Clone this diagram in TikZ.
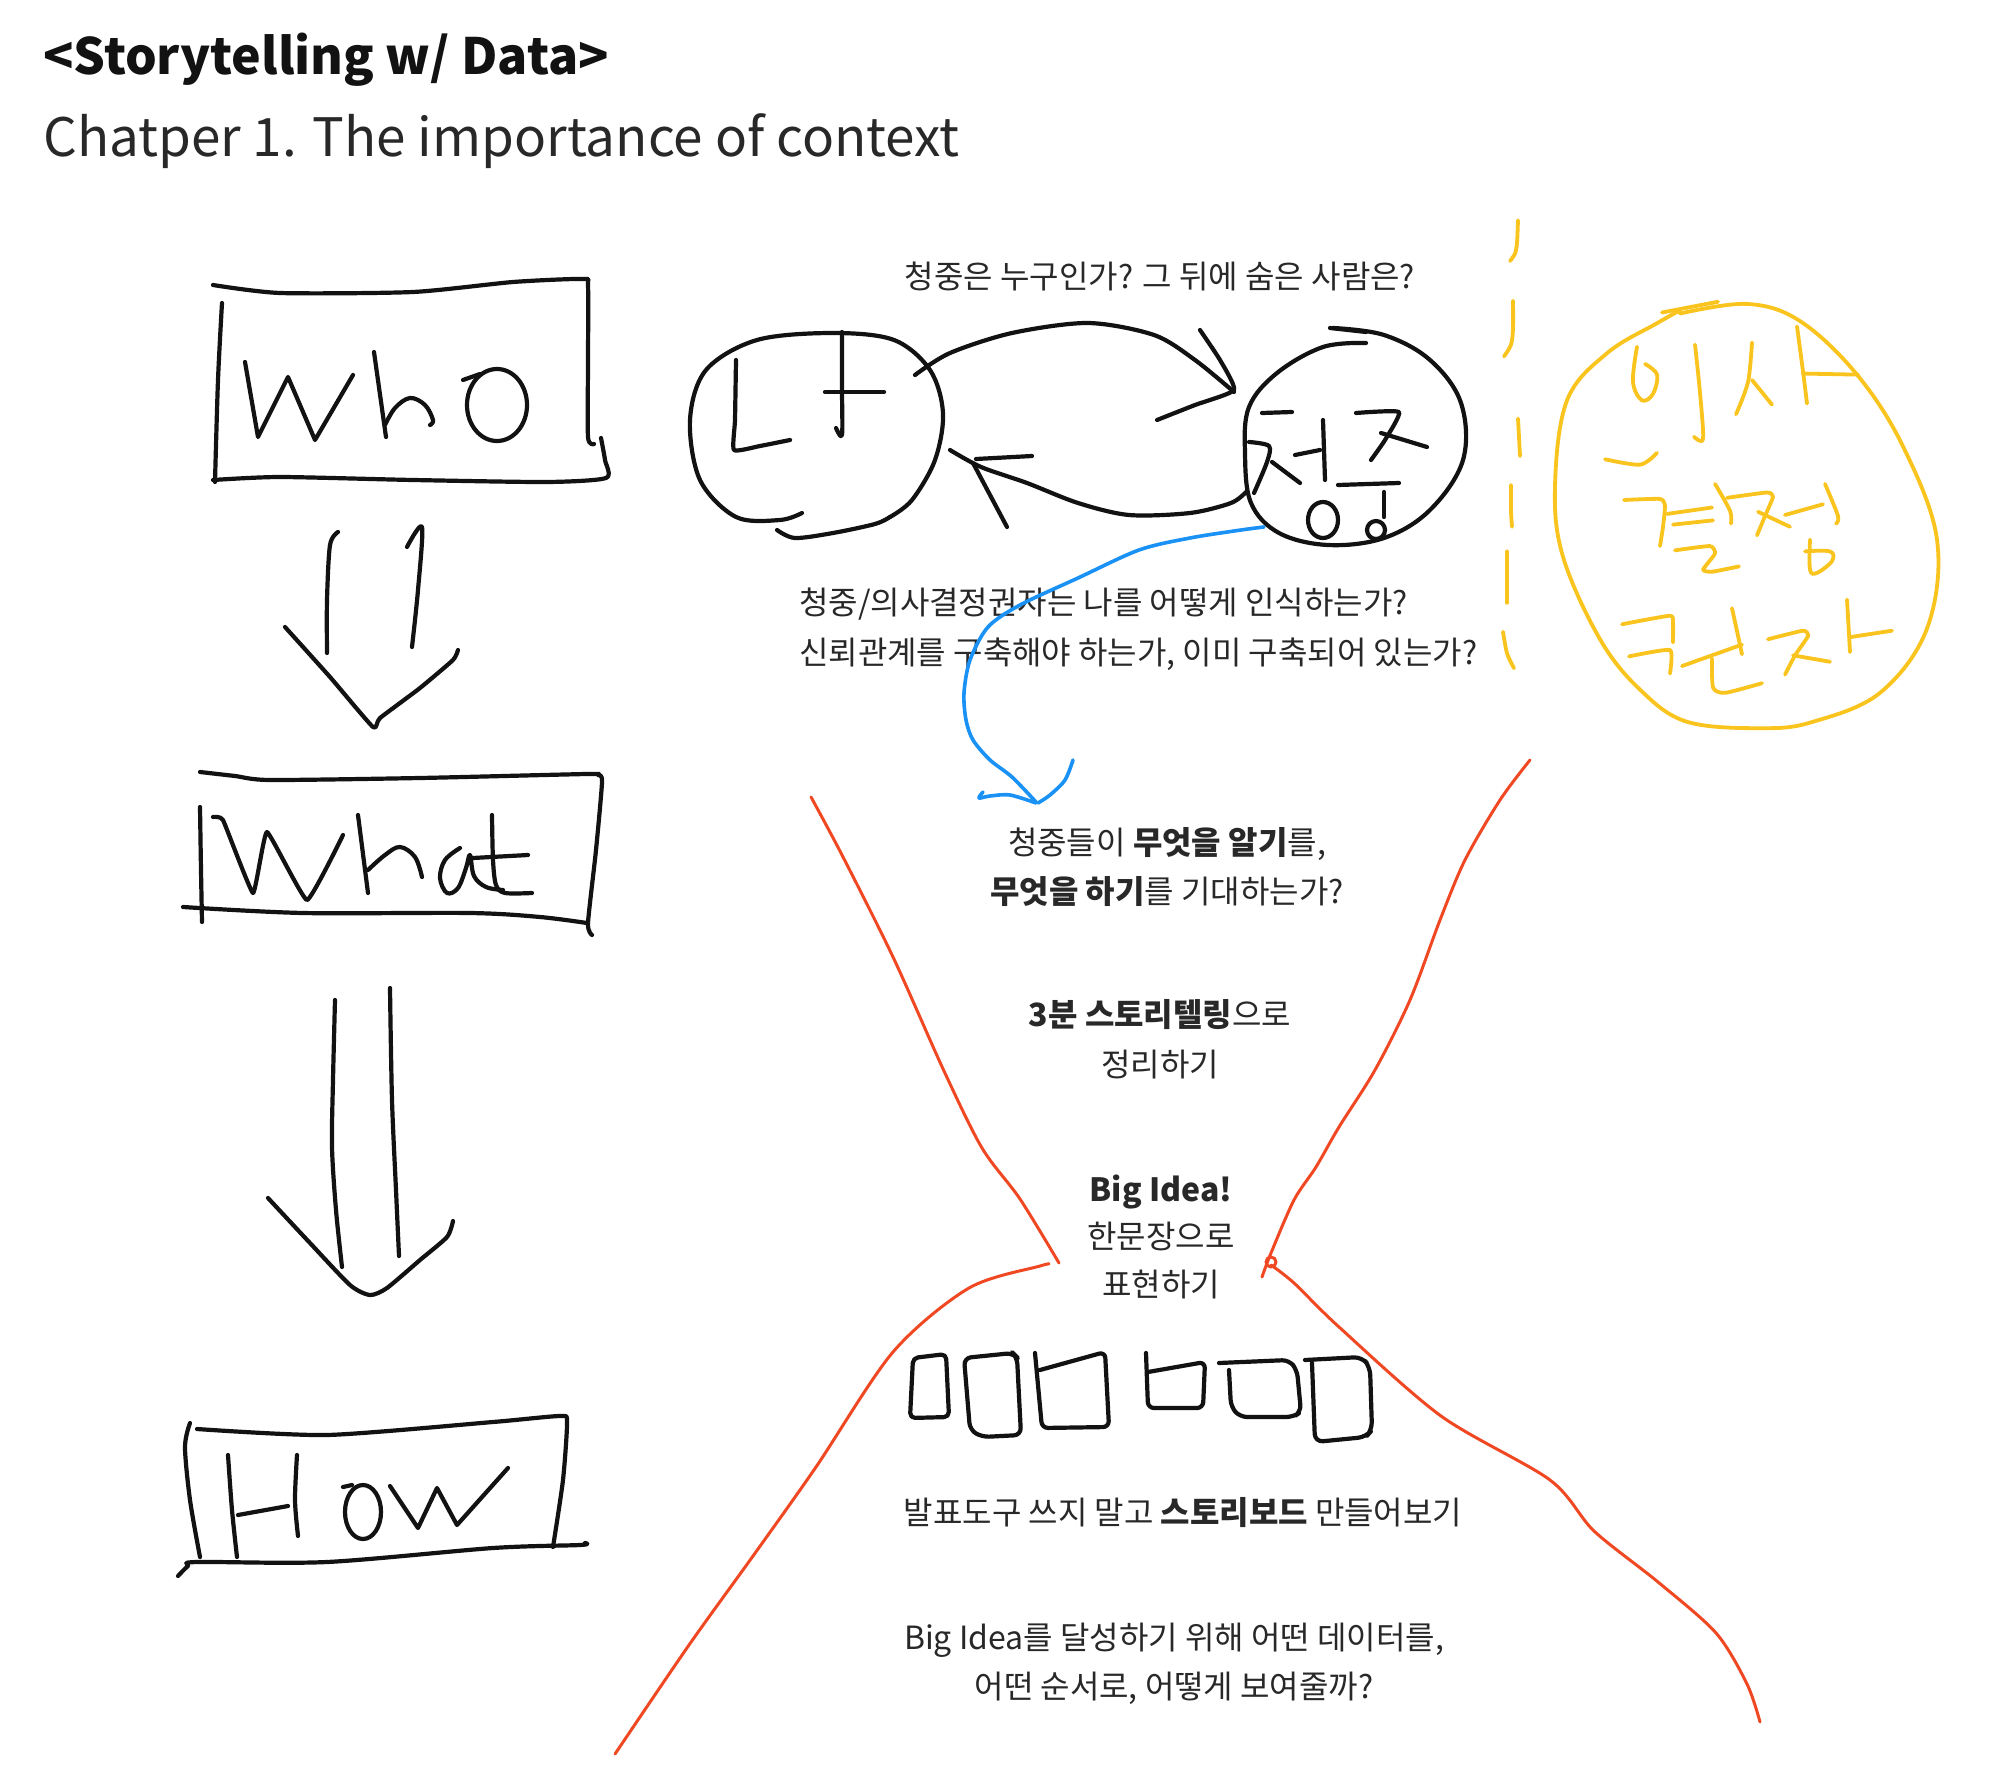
\documentclass[tikz,border=0pt]{standalone}
\usepackage{fontspec}
\setmainfont{Noto Sans CJK KR}
\definecolor{ink}{RGB}{18,18,18}
\definecolor{txtc}{RGB}{40,40,40}
\definecolor{ylw}{RGB}{250,196,30}
\definecolor{blu}{RGB}{25,145,245}
\definecolor{rd}{RGB}{240,72,35}
\begin{document}
\begin{tikzpicture}[x=1pt,y=-1pt,
  pen/.style={ink,line width=4.2pt,line cap=round,line join=round},
  ypen/.style={ylw,line width=3.8pt,line cap=round,line join=round},
  bpen/.style={blu,line width=3.6pt,line cap=round,line join=round},
  rpen/.style={rd,line width=3pt,line cap=round,line join=round},
  txt/.style={inner sep=0pt,text=txtc,font=\fontsize{32}{38}\selectfont},
  ttl/.style={inner sep=0pt,text=txtc,anchor=base west}]
\useasboundingbox (0,0) rectangle (2000,1787);
\fill[white] (0,0) rectangle (2000,1787);

% titles
\node[ttl,font=\fontsize{50}{60}\selectfont\bfseries,text=ink] (title) at (43,75) {<Storytelling w/ Data>};
\node[ttl,font=\fontsize{53}{63}\selectfont] (sub) at (43,157) {Chatper 1. The importance of context};

% ---------- WHO box ----------
\draw[pen] plot[smooth,tension=0.4] coordinates {(213,285) (280,293) (413,292) (513,282) (583,279) (588,286) (588,360) (588,437) (594,444)};
\draw[pen] plot[smooth,tension=0.4] coordinates {(601,438) (605,460) (606,478) (547,482) (413,480) (280,477) (213,480)};
\draw[pen] plot[smooth] coordinates {(222,303) (218,380) (215,482)};
\draw[pen] (245,362) -- (258,437) -- (288,377) -- (315,440) -- (353,375);
\draw[pen] (374,352) -- (386,437);
\draw[pen] plot[smooth,tension=0.6] coordinates {(385,425) (395,408) (410,398) (425,405) (433,420) (430,425)};
\draw[pen] (497,405) ellipse [x radius=30,y radius=36];
\draw[pen] (463,380) -- (480,374);

% arrow who -> what
\draw[pen] plot[smooth] coordinates {(338,532) (330,545) (327,600) (327,653)};
\draw[pen] plot[smooth] coordinates {(407,547) (422,527) (418,590) (412,647)};
\draw[pen] plot[smooth,tension=0.3] coordinates {(285,627) (330,677) (373,727) (380,718) (420,688) (453,660) (458,650)};

% ---------- WHAT box ----------
\draw[pen] plot[smooth,tension=0.4] coordinates {(200,772) (235,776) (270,780) (420,778) (587,774) (598,775) (602,782) (596,850) (588,923) (592,935)};
\draw[pen] plot[smooth] coordinates {(200,807) (201,870) (202,922)};
\draw[pen] plot[smooth] coordinates {(183,907) (303,913) (470,913) (540,917) (587,923)};
\draw[pen] plot[smooth,tension=0.2] coordinates {(213,817) (223,820) (253,893) (267,832) (307,900) (343,835)};
\draw[pen] (358,815) -- (368,893);
\draw[pen] plot[smooth,tension=0.6] coordinates {(368,870) (385,855) (400,847) (415,857) (422,877)};
\draw[pen] plot[smooth,tension=0.6] coordinates {(460,848) (445,860) (440,878) (447,893) (458,888) (466,868) (470,855) (474,876) (486,887) (503,890)};
\draw[pen] plot[smooth,tension=0.5] coordinates {(492,815) (493,860) (496,885) (505,893) (532,893)};
\draw[pen] (473,858) -- (528,855);

% arrow what -> how
\draw[pen] plot[smooth] coordinates {(335,1000) (333,1080) (332,1147) (336,1210) (342,1267)};
\draw[pen] plot[smooth] coordinates {(390,988) (392,1100) (396,1190) (399,1256)};
\draw[pen] plot[smooth,tension=0.4] coordinates {(268,1198) (310,1243) (350,1285) (370,1295) (387,1288) (420,1260) (447,1237) (453,1221)};

% ---------- HOW box ----------
\draw[pen] plot[smooth] coordinates {(190,1423) (185,1447) (190,1500) (200,1557)};
\draw[pen] plot[smooth,tension=0.4] coordinates {(197,1429) (327,1435) (493,1422) (560,1416) (567,1422) (563,1480) (553,1547)};
\draw[pen] plot[smooth,tension=0.5] coordinates {(178,1576) (188,1566) (197,1562) (327,1562) (493,1548) (580,1545) (585,1543)};
\draw[pen] plot[smooth] coordinates {(228,1455) (232,1510) (237,1557)};
\draw[pen] (238,1515) -- (288,1506);
\draw[pen] plot[smooth] coordinates {(297,1455) (295,1500) (298,1536)};
\draw[pen] (343,1487) -- (352,1485);
\draw[pen] (363,1512) ellipse [x radius=18,y radius=27];
\draw[pen] (390,1486) -- (418,1528) -- (437,1488) -- (457,1525) -- (508,1468);

% ---------- 나 / 청중 ----------
\node[txt,anchor=base] (q1) at (1160,289) {청중은 누구인가? 그 뒤에 숨은 사람은?};
\draw[pen] plot[smooth,tension=0.55] coordinates {(802,513) (780,520) (736,517) (700,480) (690,420) (706,370) (757,340) (833,333) (894,340) (930,370) (943,413) (935,460) (912,500) (890,517)};
\draw[pen] plot[smooth] coordinates {(777,530) (795,538) (833,533) (875,524) (890,517)};
\draw[pen] plot[smooth,tension=0.3] coordinates {(736,360) (735,420) (734,450) (760,446) (790,440)};
\draw[pen] plot[smooth] coordinates {(842,332) (842,390) (842,435) (836,428)};
\draw[pen] (825,392) -- (884,392);
% top arrow
\draw[pen] plot[smooth] coordinates {(915,375) (950,353) (1012,333) (1088,323) (1154,335) (1195,360) (1234,392)};
\draw[pen] plot[smooth,tension=0.3] coordinates {(1200,330) (1220,360) (1234,390) (1195,405) (1157,420)};
% bottom arrow
\draw[pen] plot[smooth] coordinates {(1246,492) (1231,503) (1190,513) (1129,515) (1078,503) (1027,483) (981,467) (950,450)};
\draw[pen] (976,459) -- (1032,456);
\draw[pen] (973,463) -- (1007,527);
% 청중 circle
\draw[pen] (1330,328) -- (1366,332);
\draw[pen] plot[smooth,tension=0.6] coordinates {(1366,343) (1323,347) (1277,373) (1249,407) (1245,453) (1251,503) (1279,533) (1328,545) (1384,538) (1430,510) (1463,460) (1461,403) (1430,360) (1384,335) (1333,328)};
\draw[pen] (1262,413) -- (1292,412);
\draw[pen] plot[smooth,tension=0.5] coordinates {(1249,442) (1269,446) (1267,462) (1254,493)};
\draw[pen] (1272,462) -- (1300,483);
\draw[pen] (1295,455) -- (1320,450);
\draw[pen] (1323,420) -- (1325,480);
\draw[pen] (1323,520) ellipse [x radius=15,y radius=18];
\draw[pen] plot[smooth,tension=0.3] coordinates {(1356,413) (1399,412) (1385,440) (1371,460)};
\draw[pen] (1381,433) -- (1427,447);
\draw[pen] (1338,485) -- (1399,483);
\draw[pen] (1384,492) -- (1384,517);
\draw[pen] (1376,530) circle [radius=9];

% ---------- texts ----------
\node[txt,anchor=base west] (q2a) at (799,614) {청중/의사결정권자는 나를 어떻게 인식하는가?};
\node[txt,anchor=base west] (q2b) at (799,664) {신뢰관계를 구축해야 하는가, 이미 구축되어 있는가?};
\node[txt,anchor=base] (q3a) at (1167,854) {청중들이 \textbf{무엇을 알기}를,};
\node[txt,anchor=base] (q3b) at (1167,903) {\textbf{무엇을 하기}를 기대하는가?};
\node[txt,anchor=base] (q4a) at (1160,1026) {\textbf{3분 스토리텔링}으로};
\node[txt,anchor=base] (q4b) at (1160,1076) {정리하기};
\node[txt,anchor=base] (q5a) at (1161,1201) {\textbf{Big Idea!}};
\node[txt,anchor=base] (q5b) at (1161,1248) {한문장으로};
\node[txt,anchor=base] (q5c) at (1161,1296) {표현하기};
\node[txt,anchor=base] (q6) at (1183,1524) {발표도구 쓰지 말고 \textbf{스토리보드} 만들어보기};
\node[txt,anchor=base] (q7a) at (1174,1649) {Big Idea를 달성하기 위해 어떤 데이터를,};
\node[txt,anchor=base] (q7b) at (1174,1698) {어떤 순서로, 어떻게 보여줄까?};

% ---------- blue arrow ----------
\draw[bpen] plot[smooth] coordinates {(1264,527) (1241,530) (1190,538) (1139,550) (1078,578) (1020,605) (988,627) (970,660) (964,693) (966,720) (973,740) (990,760) (1012,777) (1036,802)};
\draw[bpen] plot[smooth,tension=0.5] coordinates {(983,792) (979,798) (990,796) (1010,795) (1036,803)};
\draw[bpen] plot[smooth] coordinates {(1073,760) (1065,780) (1050,795) (1038,803)};

% ---------- storyboard boxes ----------
\draw[pen,rounded corners=5] (913,1358) -- (910,1418) -- (949,1417) -- (946,1354) -- cycle;
\draw[pen,rounded corners=7] (964,1358) -- (1013,1353) -- (1017,1357) -- (1021,1435) -- (982,1437) -- (970,1430) -- cycle;
\draw[pen,rounded corners=6] (1035,1353) -- (1042,1428) -- (1109,1427) -- (1105,1352) -- (1040,1370);
\draw[pen,rounded corners=6] (1146,1353) -- (1148,1408) -- (1203,1408) -- (1205,1362) -- (1148,1372);
\draw[pen,rounded corners=7] (1219,1363) -- (1289,1360) -- (1297,1370) -- (1301,1412) -- (1293,1417) -- (1240,1417) -- (1231,1407) -- (1229,1370);
\draw[pen,rounded corners=8] (1305,1360) -- (1362,1357) -- (1370,1367) -- (1372,1430) -- (1366,1437) -- (1315,1442) -- (1312,1363);

% ---------- red funnel ----------
\draw[rpen] plot[smooth] coordinates {(811,797) (842,855) (893,957) (944,1071) (982,1148) (1020,1199) (1059,1263)};
\draw[rpen] plot[smooth] coordinates {(1049,1264) (1040,1266) (969,1288) (893,1352) (816,1467) (753,1556) (689,1645) (615,1754)};
\draw[rpen] plot[smooth] coordinates {(1530,760) (1500,800) (1465,860) (1440,920) (1410,1000) (1375,1070) (1339,1127) (1316,1167) (1294,1200) (1271,1253) (1262,1277)};
\draw[rpen] (1271,1262) circle [radius=5];
\draw[rpen] plot[smooth] coordinates {(1271,1265) (1294,1283) (1339,1327) (1441,1416) (1550,1480) (1594,1531) (1658,1582) (1716,1633) (1747,1684) (1760,1722)};

% ---------- yellow ----------
\begin{scope}[yshift=14.28pt,yscale=1.0714]
\draw[ypen] plot[smooth] coordinates {(1518,219) (1517,240) (1515,250) (1510,257)};
\draw[ypen] plot[smooth] coordinates {(1513,294) (1513,320) (1511,335) (1504,346)};
\draw[ypen] (1518,404) -- (1520,439);
\draw[ypen] plot[smooth] coordinates {(1511,466) (1511,490) (1512,505)};
\draw[ypen] (1507,528) -- (1507,576);
\draw[ypen] plot[smooth] coordinates {(1503,603) (1507,623) (1514,637)};
\draw[ypen] (1662,305) -- (1718,295);
\draw[ypen] plot[smooth,tension=0.6] coordinates {(1680,306) (1747,297) (1800,313) (1857,363) (1903,430) (1937,517) (1927,600) (1880,660) (1813,687) (1763,693) (1687,687) (1640,657) (1600,610) (1563,533) (1555,467) (1567,387) (1607,343) (1657,315) (1680,303)};
% 의
\draw[ypen] plot[smooth,tension=0.6] coordinates {(1637,337) (1633,370) (1642,387) (1653,381) (1657,363) (1645,353)};
\draw[ypen] plot[smooth] coordinates {(1695,335) (1700,380) (1703,423) (1694,421)};
\draw[ypen] plot[smooth] coordinates {(1605,442) (1640,447) (1657,436)};
% 사
\draw[ypen] plot[smooth] coordinates {(1752,333) (1748,370) (1736,400)};
\draw[ypen] (1752,368) -- (1772,391);
\draw[ypen] plot[smooth] coordinates {(1797,318) (1803,360) (1807,390)};
\draw[ypen] (1803,362) -- (1858,363);
% 결
\draw[ypen] plot[smooth,tension=0.3] coordinates {(1624,480) (1660,479) (1665,485) (1663,505) (1660,523)};
\draw[ypen] (1667,493) -- (1712,487);
\draw[ypen] (1673,503) -- (1713,499);
\draw[ypen] plot[smooth,tension=0.3] coordinates {(1675,527) (1710,523) (1715,530) (1703,545) (1712,547) (1739,542)};
% 정
\draw[ypen] plot[smooth] coordinates {(1715,465) (1730,490) (1731,502)};
\draw[ypen] plot[smooth,tension=0.3] coordinates {(1727,478) (1767,473) (1773,477) (1765,495) (1757,513)};
\draw[ypen] (1758,491) -- (1790,505);
\draw[ypen] (1785,494) -- (1823,484);
\draw[ypen] plot[smooth] coordinates {(1825,465) (1838,495) (1836,502)};
\draw[ypen] plot[smooth,tension=0.6] coordinates {(1810,517) (1810,545) (1817,548) (1832,537) (1830,528) (1805,528)};
% 권
\draw[ypen] plot[smooth,tension=0.3] coordinates {(1622,596) (1670,588) (1673,595) (1673,613)};
\draw[ypen] plot[smooth,tension=0.3] coordinates {(1629,626) (1670,620) (1670,642)};
\draw[ypen] (1682,635) -- (1742,615);
\draw[ypen] (1732,581) -- (1742,624);
\draw[ypen] plot[smooth,tension=0.4] coordinates {(1712,628) (1713,655) (1725,660) (1762,651)};
% 자
\draw[ypen] plot[smooth,tension=0.3] coordinates {(1768,610) (1803,602) (1808,607) (1795,625) (1785,643)};
\draw[ypen] (1793,625) -- (1830,631);
\draw[ypen] (1847,573) -- (1850,622);
\draw[ypen] (1850,608) -- (1892,602);
\end{scope}
\end{tikzpicture}
\end{document}
